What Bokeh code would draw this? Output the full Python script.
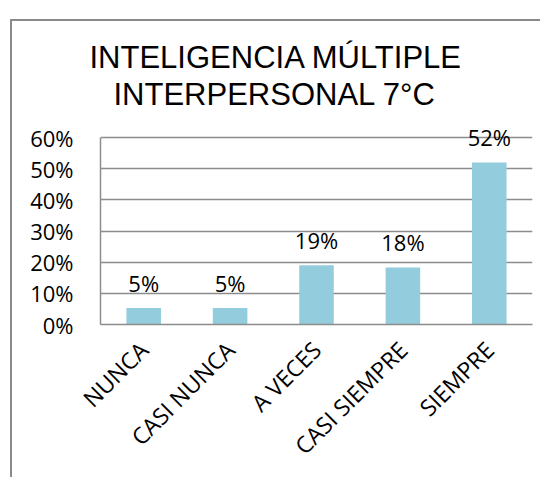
import math
from bokeh.plotting import figure
from bokeh.models import (ColumnDataSource, NumeralTickFormatter, FixedTicker, Range1d,
                          Title)
from bokeh.core.properties import value
from bokeh.embed import file_html
from bokeh.resources import INLINE

categories = ["NUNCA", "CASI NUNCA", "A VECES", "CASI SIEMPRE", "SIEMPRE"]
values = [0.053, 0.053, 0.19, 0.183, 0.52]
labels = ["5%", "5%", "19%", "18%", "52%"]
y_ticks = [0, 0.1, 0.2, 0.3, 0.4, 0.5, 0.6]
title_lines = ["INTELIGENCIA MÚLTIPLE", "INTERPERSONAL 7°C"]

src = ColumnDataSource(dict(cat=categories, val=values, lab=labels))

p = figure(x_range=categories, y_range=Range1d(0, 0.645),
           frame_width=432, frame_height=201, output_backend="svg",
           toolbar_location=None, title=None,
           min_border_left=88, min_border_right=8, min_border_top=102,
           min_border_bottom=153)
p.styles = {"border-left": "2px solid #8a8a8a", "border-top": "2px solid #8a8a8a",
            "margin-left": "10px", "margin-top": "19px"}

t2 = Title(text=title_lines[1], text_font="Liberation Sans", text_font_size="31px",
           text_font_style="normal", text_color="#000000", align="left",
           offset=13, standoff=24)
t1 = Title(text=title_lines[0], text_font="Liberation Sans", text_font_size="31px",
           text_font_style="normal", text_color="#000000", align="left",
           offset=-11, standoff=-24)
p.add_layout(t2, "above")
p.add_layout(t1, "above")

p.vbar(x="cat", top="val", width=0.4, source=src, fill_color="#93CDDD",
       line_color=None)
p.text(x="cat", y="val", text="lab", source=src, text_align="center",
       text_baseline="alphabetic", y_offset=-25, text_font=value("Open Sans"),
       text_font_size="22px", text_color="#000000")

p.outline_line_color = None
p.background_fill_color = "white"
p.border_fill_color = "white"
p.xgrid.grid_line_color = None
p.ygrid.grid_line_color = "#8c8c8c"
p.ygrid.grid_line_width = 1.5
p.yaxis.ticker = FixedTicker(ticks=y_ticks)
p.yaxis.bounds = (y_ticks[0], y_ticks[-1])
p.yaxis.formatter = NumeralTickFormatter(format="0%")
p.yaxis.axis_line_color = "#8c8c8c"
p.yaxis.axis_line_width = 1.5
p.yaxis.major_tick_line_color = None
p.yaxis.minor_tick_line_color = None
p.yaxis.major_label_standoff = 21
p.xaxis.axis_line_color = "#8c8c8c"
p.xaxis.axis_line_width = 1.5
p.xaxis.major_tick_line_color = None
p.xaxis.minor_tick_line_color = None
p.xaxis.major_label_orientation = math.pi / 4
p.xaxis.major_label_standoff = 15
p.yaxis.major_label_text_font_size = "22px"
p.xaxis.major_label_text_font_size = "23px"
for ax in (p.xaxis, p.yaxis):
    ax.major_label_text_font = "Open Sans"
    ax.major_label_text_color = "#000000"

open("out.html", "w").write(file_html(p, INLINE))
